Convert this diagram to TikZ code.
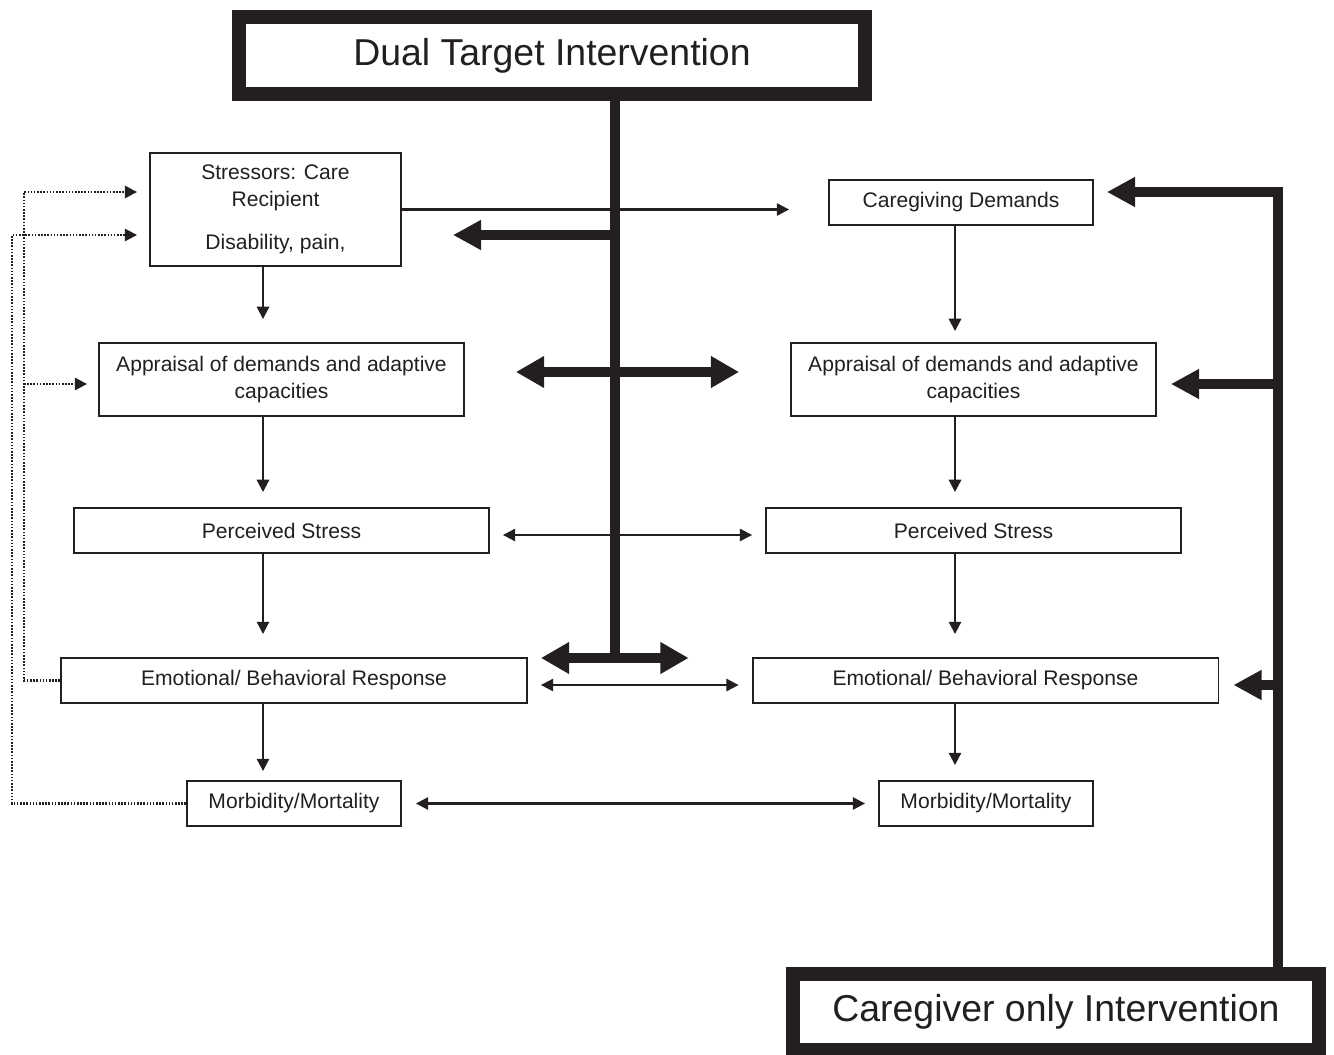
\documentclass[tikz,border=0pt]{standalone}
\usepackage{fontspec}
\setmainfont{Liberation Sans}
\usetikzlibrary{arrows.meta}
\definecolor{ink}{RGB}{35,31,32}

\begin{document}
\begin{tikzpicture}[x=0.02cm, y=-0.02cm, ink,
    box/.style={draw, line width=1.1pt, inner sep=0pt, minimum height=0.9cm, align=center, font=\fontsize{12}{15.3}\selectfont},
    big/.style={draw, line width=7.9pt, inner sep=0pt, font=\fontsize{21.3}{25}\selectfont},
    flow/.style={line width=1.2pt, -{Triangle[length=7pt,width=7pt]}},
    twoway/.style={line width=1.2pt, {Triangle[length=7pt,width=7pt]}-{Triangle[length=7pt,width=7pt]}},
    bar/.style={line width=5.2pt},
    push/.style={bar, -{Triangle[length=16pt,width=16pt]}},
    push2/.style={bar, {Triangle[length=16pt,width=17pt]}-{Triangle[length=16pt,width=17pt]}},
    back/.style={dash pattern=on 0.9pt off 0.9pt, line width=1.3pt, -{Triangle[length=7pt,width=7pt]}}]
  \useasboundingbox (0,0) rectangle (1334,1054);
  % intervention boxes
  \node[big, minimum width=12.52cm, minimum height=1.54cm] (DT) at (552,55.5) {Dual Target Intervention};
  \node[big, minimum width=10.52cm, minimum height=1.52cm] (CO) at (1056,1012) {Caregiver only Intervention};
  % care recipient column
  \node[box, minimum width=5.02cm, minimum height=2.26cm] (SR) at (275.5,209.5) {Stressors: Care\\Recipient\\[9pt]Disability, pain,};
  \node[box, minimum width=7.3cm, minimum height=1.46cm] (AL) at (281.5,379.5) {Appraisal of demands and adaptive\\capacities};
  \node[box, minimum width=8.3cm] (PL) at (281.5,530.5) {Perceived Stress};
  \node[box, minimum width=9.32cm] (EL) at (294,680.5) {Emotional/ Behavioral Response};
  \node[box, minimum width=4.28cm] (ML) at (294,803.5) {Morbidity/Mortality};
  % caregiver column
  \node[box, minimum width=5.28cm] (CD) at (961,202.5) {Caregiving Demands};
  \node[box, minimum width=7.3cm, minimum height=1.46cm] (AR) at (973.5,379.5) {Appraisal of demands and adaptive\\capacities};
  \node[box, minimum width=8.3cm] (PR) at (973.5,530.5) {Perceived Stress};
  \node[box, minimum width=9.32cm] (ER) at (985.5,680.5) {Emotional/ Behavioral Response};
  \node[box, minimum width=4.28cm] (MR) at (986,803.5) {Morbidity/Mortality};
  % helper points
  \coordinate (lx) at (263,0);
  \coordinate (rx) at (955,0);
  \coordinate (t1) at (615,235);
  \coordinate (t2) at (615,372);
  \coordinate (t3) at (615,535);
  \coordinate (t4) at (615,658);
  \coordinate (r1) at (1278,192);
  \coordinate (r2) at (1278,384);
  \coordinate (r3) at (1278,685);
  \coordinate (s0) at (24,192);
  \coordinate (s1) at (12,235);
  \coordinate (s3) at (24,384);
  % dual target trunk
  \draw[bar] (DT.south -| t1) -- (t4);
  \draw[push, shorten >=1.02cm] (t1) -- (SR.east |- t1);
  \draw[push2, shorten <=1.02cm, shorten >=1.02cm] (AL.east |- t2) -- (AR.west |- t2);
  \draw[push2, shorten <=0.26cm, shorten >=1.26cm] (EL.east |- t4) -- (ER.west |- t4);
  % caregiver only trunk
  \draw[push, shorten >=0.26cm] (CO.north -| r1) -- (r1) -- (CD.east |- r1);
  \draw[push, shorten >=0.28cm] (r2) -- (AR.east |- r2);
  \draw[push, shorten >=0.28cm] (r3) -- (ER.east |- r3);
  % downward flows
  \draw[flow, shorten >=0.46cm] (SR.south -| lx) -- (AL.north -| lx);
  \draw[flow, shorten >=0.3cm] (AL.south -| lx) -- (PL.north -| lx);
  \draw[flow, shorten >=0.46cm] (PL.south -| lx) -- (EL.north -| lx);
  \draw[flow, shorten >=0.18cm] (EL.south -| lx) -- (ML.north -| lx);
  \draw[flow, shorten >=0.22cm] (CD.south -| rx) -- (AR.north -| rx);
  \draw[flow, shorten >=0.3cm] (AR.south -| rx) -- (PR.north -| rx);
  \draw[flow, shorten >=0.46cm] (PR.south -| rx) -- (ER.north -| rx);
  \draw[flow, shorten >=0.3cm] (ER.south -| rx) -- (MR.north -| rx);
  % across
  \draw[flow, shorten >=0.78cm] (SR.east) -- (SR.east -| CD.west);
  \draw[twoway, shorten <=0.26cm, shorten >=0.26cm] (PL.east |- t3) -- (PR.west |- t3);
  \draw[twoway, shorten <=0.26cm, shorten >=0.26cm] (EL.east |- r3) -- (ER.west |- r3);
  \draw[twoway, shorten <=0.28cm, shorten >=0.26cm] (ML.east) -- (MR.west);
  % feedback
  \draw[back, shorten >=0.24cm] (ML.west) -| (s1) -- (SR.west |- s1);
  \draw[back, shorten >=0.24cm] (EL.west) -| (s0) -- (SR.west |- s0);
  \draw[back, shorten >=0.22cm] (s3) -- (AL.west |- s3);
\end{tikzpicture}
\end{document}
